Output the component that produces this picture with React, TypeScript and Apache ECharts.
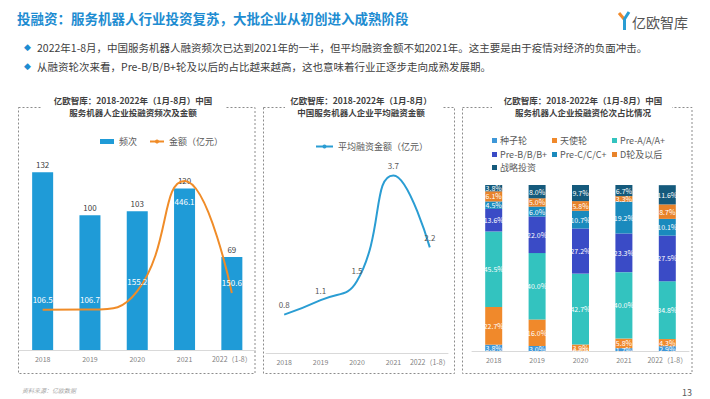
import React, { useEffect, useRef } from 'react';
import * as echarts from 'echarts';

const years = ['2018', '2019', '2020', '2021', '2022（1-8）'];
const freq = [132, 100, 103, 120, 69];
const amount = [106.5, 106.7, 155.2, 446.1, 150.6];
const avgAmount = [0.8, 1.1, 1.5, 3.7, 2.2];

const roundNames = ['种子轮', '天使轮', 'Pre-A/A/A+', 'Pre-B/B/B+', 'Pre-C/C/C+', 'D轮及以后', '战略投资'];
const seed = [3.8, 3.0, 0.0, 1.7, 2.9];
const angel = [22.7, 16.0, 3.9, 5.8, 4.3];
const preA = [45.5, 40.0, 42.7, 40.0, 34.8];
const preB = [13.6, 22.0, 27.2, 23.3, 27.5];
const preC = [4.5, 6.0, 10.7, 19.2, 10.1];
const roundD = [6.1, 5.0, 5.8, 3.3, 8.7];
const strategic = [3.8, 8.0, 9.7, 6.7, 11.6];
const roundValues = [seed, angel, preA, preB, preC, roundD, strategic];
const roundColors = ['#3e97d8', '#f0892b', '#33c3bf', '#3a4bc6', '#1a8abd', '#e8832a', '#155a7c'];

const FONT = '"Noto Sans CJK SC", "Microsoft YaHei", sans-serif';
const TITLE = '投融资：服务机器人行业投资复苏，大批企业从初创进入成熟阶段';
const BULLET1 = '2022年1-8月，中国服务机器人融资频次已达到2021年的一半，但平均融资金额不如2021年。这主要是由于疫情对经济的负面冲击。';
const BULLET2 = '从融资轮次来看，Pre-B/B/B+轮及以后的占比越来越高，这也意味着行业正逐步走向成熟发展期。';

const legendPos: [number, number][] = [
  [492, 136], [552, 136], [612, 136],
  [492, 150], [552, 150], [612, 150],
  [492, 163],
];

export default function App() {
  const ref = useRef<HTMLDivElement>(null);
  useEffect(() => {
    if (!ref.current) return;
    const chart = echarts.init(ref.current, undefined, { renderer: 'svg' });

    const xAxisBase = (gridIndex: number) => ({
      type: 'category' as const,
      gridIndex,
      data: years,
      axisLine: { lineStyle: { color: '#d9d9d9' } },
      axisTick: { show: false },
      axisLabel: { color: '#7f7f7f', fontSize: 7, margin: 5, interval: 0, fontFamily: FONT },
    });

    const panelRect = (x: number, w: number) => ({
      type: 'rect',
      shape: { x, y: 107.5, width: w, height: 266 },
      style: { fill: 'none', stroke: '#8c8c8c', lineWidth: 1, lineDash: [2, 2] },
      silent: true,
    });
    const whiteRect = (x: number, w: number) => ({
      type: 'rect',
      shape: { x, y: 95, width: w, height: 24 },
      style: { fill: '#fff' },
      silent: true,
    });
    const panelTitle = (x: number, t: string) => ({
      type: 'text',
      x,
      y: 106,
      style: {
        text: t,
        fontSize: 8.5,
        fontWeight: 'bold',
        fill: '#404040',
        align: 'center',
        verticalAlign: 'middle',
        lineHeight: 11.5,
        fontFamily: FONT,
      },
    });

    const roundLegends = roundNames.map((n, i) => ({
      left: legendPos[i][0],
      top: legendPos[i][1],
      data: [n],
      icon: 'rect',
      itemWidth: 5,
      itemHeight: 5,
      itemGap: 0,
      padding: 0,
      textStyle: { fontSize: 9, color: '#595959', fontFamily: FONT, padding: [0, 0, 0, -2] },
    }));

    const option: any = {
      animation: false,
      textStyle: { fontFamily: FONT },
      legend: [
        {
          left: 100,
          top: 137,
          padding: 0,
          itemGap: 12,
          itemWidth: 14,
          itemHeight: 5,
          data: [{ name: '频次', icon: 'rect' }, { name: '金额（亿元）' }],
          textStyle: { fontSize: 9, color: '#595959', fontFamily: FONT },
        },
        {
          left: 315,
          top: 142,
          padding: 0,
          itemWidth: 17,
          itemHeight: 5,
          data: ['平均融资金额（亿元）'],
          textStyle: { fontSize: 9, color: '#595959', fontFamily: FONT },
        },
        ...roundLegends,
      ],
      grid: [
        { left: 19, width: 236.5, top: 148, bottom: 49 },
        { left: 266, width: 182, top: 161, bottom: 46 },
        { left: 472, width: 217, top: 185, bottom: 48 },
      ],
      xAxis: [xAxisBase(0), xAxisBase(1), xAxisBase(2)],
      yAxis: [
        { type: 'value', gridIndex: 0, min: 0, max: 150, show: false },
        { type: 'value', gridIndex: 0, min: 0, max: 533, show: false },
        { type: 'value', gridIndex: 1, min: 0, max: 4, show: false },
        { type: 'value', gridIndex: 2, min: 0, max: 100, show: false },
      ],
      series: [
        {
          name: '频次',
          type: 'bar',
          xAxisIndex: 0,
          yAxisIndex: 0,
          data: freq,
          barWidth: 21,
          itemStyle: { color: '#1f9bd7' },
          label: { show: true, position: 'top', color: '#404040', fontSize: 8, distance: 4 },
        },
        {
          name: '金额（亿元）',
          type: 'line',
          xAxisIndex: 0,
          yAxisIndex: 1,
          smooth: true,
          symbol: 'circle',
          symbolSize: 0.1,
          showSymbol: true,
          itemStyle: { color: '#f08c28' },
          lineStyle: { color: '#f08c28', width: 2 },
          data: amount.map((v, i) =>
            i === 3
              ? { value: v, label: { position: 'bottom', distance: 17 } }
              : { value: v }
          ),
          label: { show: true, position: 'top', color: '#ffffff', fontSize: 8, distance: 6 },
          z: 3,
        },
        {
          name: '平均融资金额（亿元）',
          type: 'line',
          xAxisIndex: 1,
          yAxisIndex: 2,
          smooth: true,
          symbol: 'circle',
          symbolSize: 0.1,
          showSymbol: true,
          itemStyle: { color: '#2a9dd3' },
          lineStyle: { color: '#2a9dd3', width: 2 },
          data: avgAmount,
          label: { show: true, position: 'top', color: '#595959', fontSize: 8, distance: 6 },
        },
        ...roundNames.map((n, i) => ({
          name: n,
          type: 'bar',
          stack: 'round',
          xAxisIndex: 2,
          yAxisIndex: 3,
          barWidth: 17,
          data: roundValues[i],
          itemStyle: { color: roundColors[i] },
          label: {
            show: true,
            position: 'inside',
            color: '#ffffff',
            fontSize: 7,
            formatter: (p: any) => Number(p.value).toFixed(1) + '%',
          },
        })),
      ],
      graphic: [
        {
          type: 'text',
          x: 17,
          y: 18,
          style: {
            text: TITLE,
            fontSize: 13.5,
            fontWeight: 'bold',
            fill: '#1d8cd1',
            verticalAlign: 'middle',
            fontFamily: FONT,
          },
        },
        // logo
        {
          type: 'line',
          shape: { x1: 619, y1: 13, x2: 624, y2: 19 },
          style: { stroke: '#f0892b', lineWidth: 3 },
        },
        {
          type: 'polyline',
          shape: { points: [[629, 12], [624.5, 19], [624.5, 30]] },
          style: { stroke: '#2a9dd3', lineWidth: 3, fill: 'none' },
        },
        {
          type: 'text',
          x: 632,
          y: 22,
          style: {
            text: '亿欧智库',
            fontSize: 14,
            fill: '#555555',
            verticalAlign: 'middle',
            fontFamily: FONT,
          },
        },
        // bullets
        {
          type: 'text',
          x: 24,
          y: 47,
          style: { text: '◆', fontSize: 9, fill: '#1d8cd1', verticalAlign: 'middle' },
        },
        {
          type: 'text',
          x: 37,
          y: 47,
          style: { text: BULLET1, fontSize: 10.5, fill: '#404040', verticalAlign: 'middle', fontFamily: FONT },
        },
        {
          type: 'text',
          x: 24,
          y: 66,
          style: { text: '◆', fontSize: 9, fill: '#1d8cd1', verticalAlign: 'middle' },
        },
        {
          type: 'text',
          x: 37,
          y: 66,
          style: { text: BULLET2, fontSize: 10.5, fill: '#404040', verticalAlign: 'middle', fontFamily: FONT },
        },
        // panels
        panelRect(18.5, 236.5),
        panelRect(263.5, 191),
        panelRect(462.5, 229.5),
        whiteRect(42, 184),
        whiteRect(285, 157),
        whiteRect(492, 180),
        panelTitle(133, '亿欧智库：2018-2022年（1月-8月）中国\n服务机器人企业投融资频次及金额'),
        panelTitle(361, '亿欧智库：2018-2022年（1月-8月）\n中国服务机器人企业平均融资金额'),
        panelTitle(583, '亿欧智库：2018-2022年（1月-8月）中国\n服务机器人企业投融资伦次占比情况'),
        // footer
        {
          type: 'text',
          x: 22,
          y: 390,
          style: {
            text: '资料来源：亿欧数据',
            fontSize: 6,
            fill: '#a6a6a6',
            fontStyle: 'italic',
            verticalAlign: 'middle',
            fontFamily: FONT,
          },
        },
        {
          type: 'text',
          x: 682,
          y: 392,
          style: { text: '13', fontSize: 9, fill: '#595959', verticalAlign: 'middle', fontFamily: FONT },
        },
      ],
    };

    chart.setOption(option);
    return () => chart.dispose();
  }, []);

  return (
    <div
      ref={ref}
      style={{ position: 'fixed', left: 0, top: 0, width: 710, height: 399, background: '#ffffff' }}
    />
  );
}
